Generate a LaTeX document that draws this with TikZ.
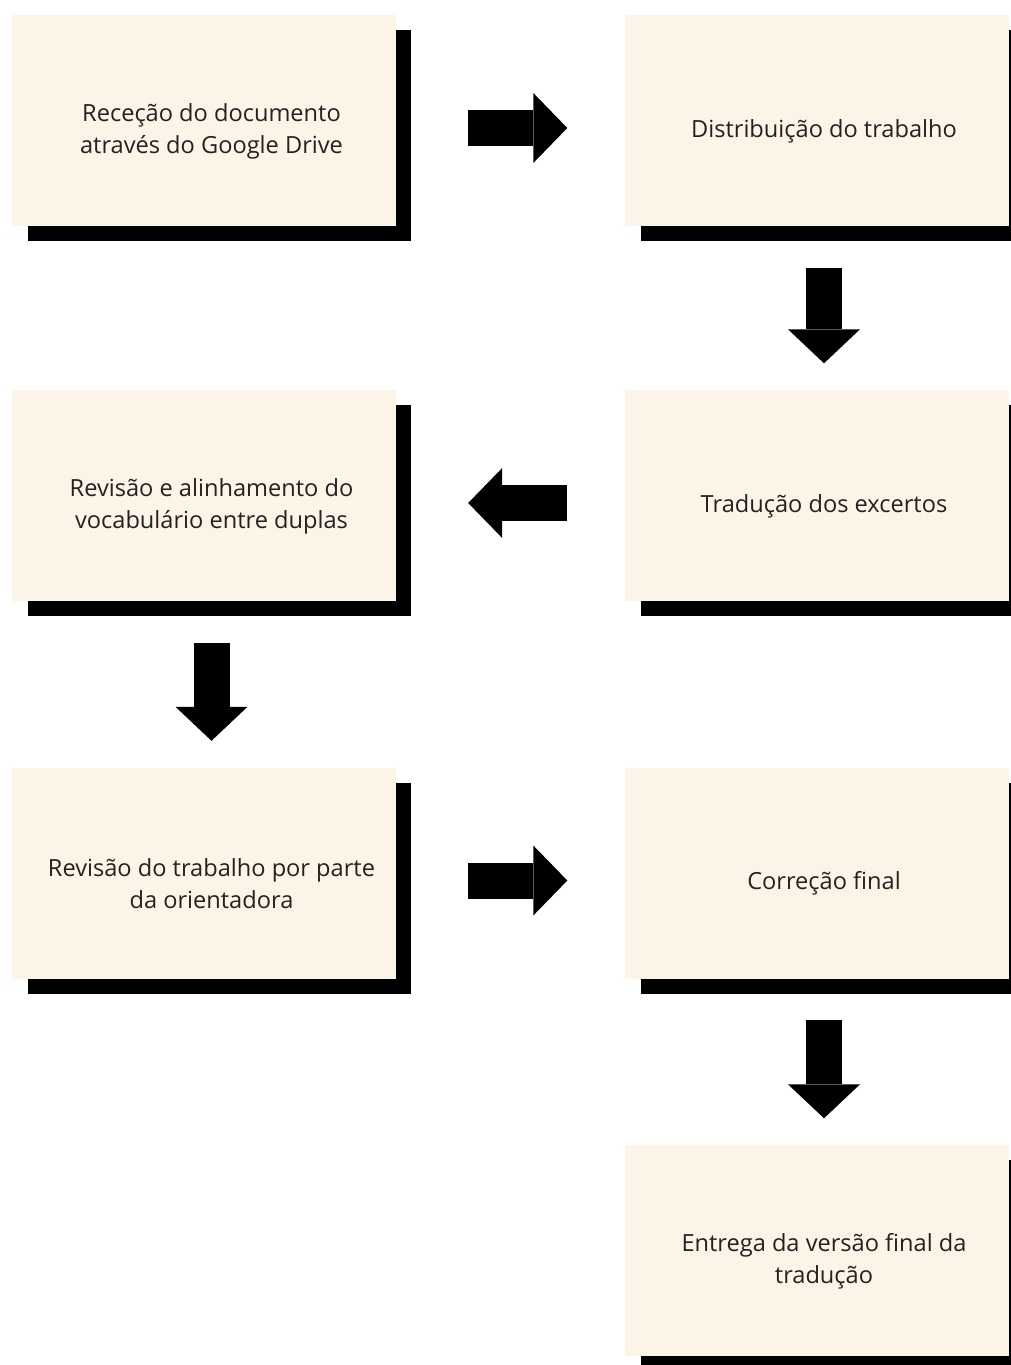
\documentclass[tikz,border=0pt]{standalone}
\usepackage{fontspec}
\setmainfont{Open Sans}
\usetikzlibrary{arrows.meta}
\definecolor{cream}{RGB}{253,244,232}
\definecolor{ink}{RGB}{34,34,34}
\tikzset{
  stepbox/.style={minimum width=399pt, minimum height=232pt, inner sep=0pt,
    align=center, text=ink, font=\fontsize{23.6}{32}\selectfont,
    path picture={
      \fill[black] ([xshift=16pt,yshift=-15pt]path picture bounding box.north west) rectangle ([xshift=399pt,yshift=-226pt]path picture bounding box.north west);
      \fill[cream] (path picture bounding box.north west) rectangle ([xshift=384pt,yshift=-211pt]path picture bounding box.north west);
    }},
  flowh/.style={line width=36pt, line cap=butt, -{Triangle[length=34pt,width=70pt,line width=0pt]}, shorten <=57pt, shorten >=57pt},
  flowv/.style={line width=36pt, line cap=butt, -{Triangle[length=34pt,width=72pt,line width=0pt]}, shorten <=20.5pt, shorten >=26.5pt}
}
\begin{document}
\begin{tikzpicture}[x=1pt,y=-1pt]
\useasboundingbox (0,0) rectangle (1011,1365);
\clip (0,0) rectangle (1011,1365);
\node[stepbox] (n1) at (211.5,131) {Receção do documento\\através do Google Drive};
\node[stepbox] (n2) at (824,131) {Distribuição do trabalho};
\node[stepbox] (n3) at (824,506) {Tradução dos excertos};
\node[stepbox] (n4) at (211.5,506) {Revisão e alinhamento do\\vocabulário entre duplas};
\node[stepbox] (n5) at (211.5,883.5) {Revisão do trabalho por parte\\da orientadora};
\node[stepbox] (n6) at (824,883.5) {Correção final};
\node[stepbox] (n7) at (824,1261) {Entrega da versão final da\\tradução};
\draw[flowh] ([yshift=3pt]n1.east) -- ([yshift=3pt]n2.west);
\draw[flowv] (n2.south) -- (n3.north);
\draw[flowh] ([yshift=3pt]n3.west) -- ([yshift=3pt]n4.east);
\draw[flowv] (n4.south) -- (n5.north);
\draw[flowh] ([yshift=3pt]n5.east) -- ([yshift=3pt]n6.west);
\draw[flowv] (n6.south) -- (n7.north);
\end{tikzpicture}
\end{document}
